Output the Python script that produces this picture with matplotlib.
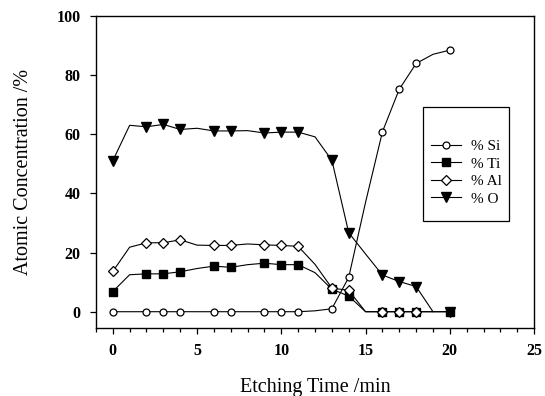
import numpy as np
import matplotlib
matplotlib.use("Agg")
import matplotlib.pyplot as plt
from matplotlib.patches import Rectangle

plt.rcParams['font.family'] = ['Liberation Serif', 'DejaVu Serif']

# Etching time (min) and atomic concentrations (%)
time_min = list(range(0, 21))
si = [0, 0, 0, 0, 0, 0, 0, 0, 0, 0, 0, 0, 0.3, 1.0, 11.6, 37.0, 60.8, 75.2, 83.9, 87.0, 88.4]
ti = [6.8, 12.5, 12.8, 12.8, 13.5, 14.6, 15.4, 15.0, 15.9, 16.4, 15.9, 15.9, 13.2, 7.6, 5.3,
      0, 0, 0, 0, 0, 0]
al = [13.6, 21.8, 23.3, 23.3, 24.3, 22.5, 22.4, 22.4, 22.9, 22.6, 22.4, 22.1, 16.0, 8.0, 7.2,
      0, 0, 0, 0, 0, np.nan]
o = [51.0, 63.0, 62.5, 63.3, 61.6, 62.0, 61.1, 61.1, 61.2, 60.4, 60.7, 60.7, 59.1, 51.2, 26.7,
     19.5, 12.4, 10.2, 8.5, 0, 0]
# indices of measured points that carry a symbol
marked = [0, 2, 3, 4, 6, 7, 9, 10, 11, 13, 14, 16, 17, 18, 20]
labels = ['% Si', '% Ti', '% Al', '% O']

fig = plt.figure(figsize=(5.45, 3.96), dpi=100)
ax = fig.add_axes([0.176, 0.1725, 0.804, 0.7875])

lw = 0.8
ax.plot(time_min, si, color='black', lw=lw, marker='o', ms=5, mfc='white', mec='black',
        mew=0.9, markevery=marked, label=labels[0])
ax.plot(time_min, ti, color='black', lw=lw, marker='s', ms=5.5, mfc='black', mec='black',
        markevery=marked, label=labels[1])
ax.plot(time_min, al, color='black', lw=lw, marker='D', ms=5.5, mfc='white', mec='black',
        mew=0.9, markevery=marked, label=labels[2])
ax.plot(time_min, o, color='black', lw=lw, marker='v', ms=6.5, mfc='black', mec='black',
        markevery=marked, label=labels[3])

ax.set_xlim(-1, 25)
ax.set_ylim(-5.4, 100)
ax.set_xticks(range(0, 26, 5))
ax.set_xticks(range(-1, 26), minor=True)
ax.set_yticks(range(0, 101, 20))

for s in ax.spines.values():
    s.set_linewidth(1.0)

ax.tick_params(axis='both', which='major', direction='out', length=4, width=0.9,
               labelsize=11.5, pad=7)
ax.tick_params(axis='x', which='minor', direction='out', length=3, width=0.9)
ax.tick_params(axis='y', which='minor', left=False)
for lab in ax.get_xticklabels() + ax.get_yticklabels():
    lab.set_fontweight('bold')

ax.set_xlabel('Etching Time /min', fontsize=14.5, labelpad=14)
ax.set_ylabel('Atomic Concentration /%', fontsize=14.5, labelpad=17)

# Legend box with its own frame
fig.patches.append(Rectangle((0.7756, 0.4427), 0.1589, 0.2864, transform=fig.transFigure,
                             fill=False, edgecolor='black', lw=0.9))
fig.legend(loc='center left', bbox_to_anchor=(0.790, 0.5639), frameon=False, fontsize=11,
           borderpad=0, borderaxespad=0, handlelength=2.0, handletextpad=0.65,
           labelspacing=0.25)

fig.savefig('out.png', dpi=100)
